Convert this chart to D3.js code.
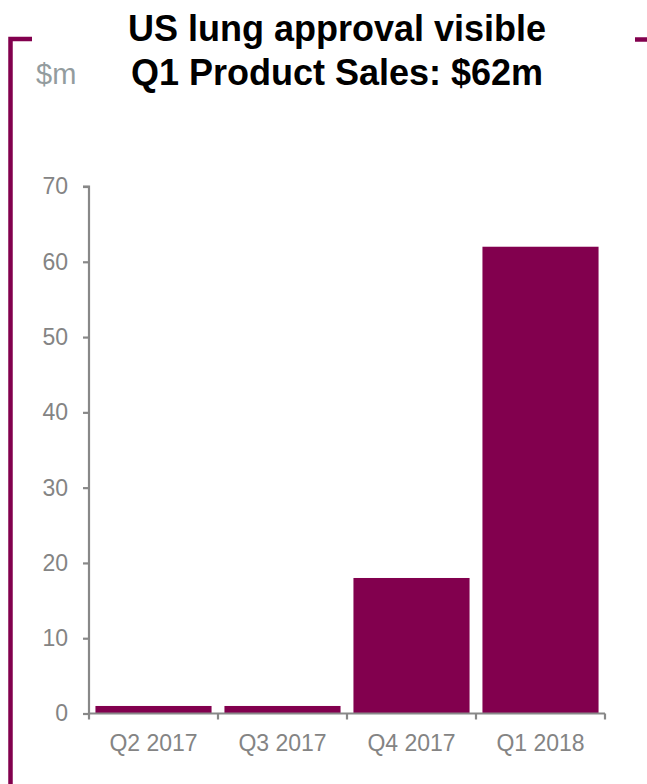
<!DOCTYPE html>
<html>
<head>
<meta charset="utf-8">
<script src="https://cdn.jsdelivr.net/npm/d3@7"></script>
<style>
  html, body { margin: 0; padding: 0; background: #fff; }
  svg { display: block; }
</style>
</head>
<body>
<script>
// Quarterly product sales, $m
const quarters = ["Q2 2017", "Q3 2017", "Q4 2017", "Q1 2018"];
const sales = [1, 1, 18, 62];
const yTicks = [0, 10, 20, 30, 40, 50, 60, 70];
const titleLines = ["US lung approval visible", "Q1 Product Sales: $62m"];
const unitLabel = "$m";

const W = 647, H = 784;
const purple = "#82004e";
const axisGrey = "#888888";
const font = "'Liberation Sans', Arial, Helvetica, sans-serif";

const svg = d3.select("body").append("svg")
  .attr("width", W).attr("height", H);

// Frame bracket: left edge with short cap, plus a short cap at top right
svg.append("path")
  .attr("d", "M10.5,784 V39 H32")
  .attr("fill", "none")
  .attr("stroke", purple)
  .attr("stroke-width", 4.5);
svg.append("line")
  .attr("x1", 635).attr("x2", 647)
  .attr("y1", 39.5).attr("y2", 39.5)
  .attr("stroke", purple)
  .attr("stroke-width", 4.5);

// Title
svg.append("g").selectAll("text")
  .data(titleLines)
  .join("text")
  .attr("x", 337)
  .attr("y", (d, i) => 41 + i * 43.5)
  .attr("text-anchor", "middle")
  .attr("font-family", font)
  .attr("font-weight", "bold")
  .attr("font-size", 36)
  .attr("fill", "#000")
  .text(d => d);

// Unit label
svg.append("text")
  .attr("x", 36).attr("y", 84)
  .attr("font-family", font)
  .attr("font-size", 29)
  .attr("fill", "#939c9e")
  .text(unitLabel);

// Scales
const x = d3.scaleBand()
  .domain(quarters)
  .range([89, 605])
  .paddingInner(0.1)
  .paddingOuter(0.05);

const y = d3.scaleLinear()
  .domain([0, 70])
  .range([713.5, 186.5]);

// Bars
svg.append("g").selectAll("rect")
  .data(quarters.map((q, i) => ({ q, v: sales[i] })))
  .join("rect")
  .attr("x", d => x(d.q))
  .attr("width", x.bandwidth())
  .attr("y", d => y(d.v))
  .attr("height", d => y(0) - y(d.v))
  .attr("fill", purple);

// Y axis
const yAxis = d3.axisLeft(y)
  .tickValues(yTicks)
  .tickSize(6)
  .tickPadding(15)
  .tickFormat(d3.format("d"));
const gy = svg.append("g")
  .attr("transform", "translate(89,0)")
  .call(yAxis);
gy.select(".domain").attr("stroke", axisGrey).attr("stroke-width", 2.2)
  .attr("d", `M-6,${y(70)}H0V${y(0)}`);
gy.selectAll(".tick line").attr("stroke", axisGrey).attr("stroke-width", 2.2);
gy.selectAll(".tick text")
  .attr("font-family", font)
  .attr("font-size", 23)
  .attr("fill", "#848484");

// X axis: ticks sit on category boundaries, labels centred under each bar
const gx = svg.append("g")
  .attr("transform", `translate(0,${y(0)})`);
const [x0, x1] = x.range();
const boundaries = quarters.map(q => x(q) - x.step() * x.paddingInner() / 2);
boundaries[0] = x0;
boundaries.push(x1);
gx.append("path")
  .attr("d", `M${x0},0H${x1}`)
  .attr("stroke", axisGrey)
  .attr("stroke-width", 2.2)
  .attr("fill", "none");
gx.selectAll("line.tick")
  .data(boundaries)
  .join("line")
  .attr("class", "tick")
  .attr("x1", d => d).attr("x2", d => d)
  .attr("y1", 0).attr("y2", 6)
  .attr("stroke", axisGrey)
  .attr("stroke-width", 2.2);
gx.selectAll("text")
  .data(quarters)
  .join("text")
  .attr("x", d => x(d) + x.bandwidth() / 2)
  .attr("y", 37)
  .attr("text-anchor", "middle")
  .attr("font-family", font)
  .attr("font-size", 23)
  .attr("fill", "#848484")
  .text(d => d);
</script>
</body>
</html>
